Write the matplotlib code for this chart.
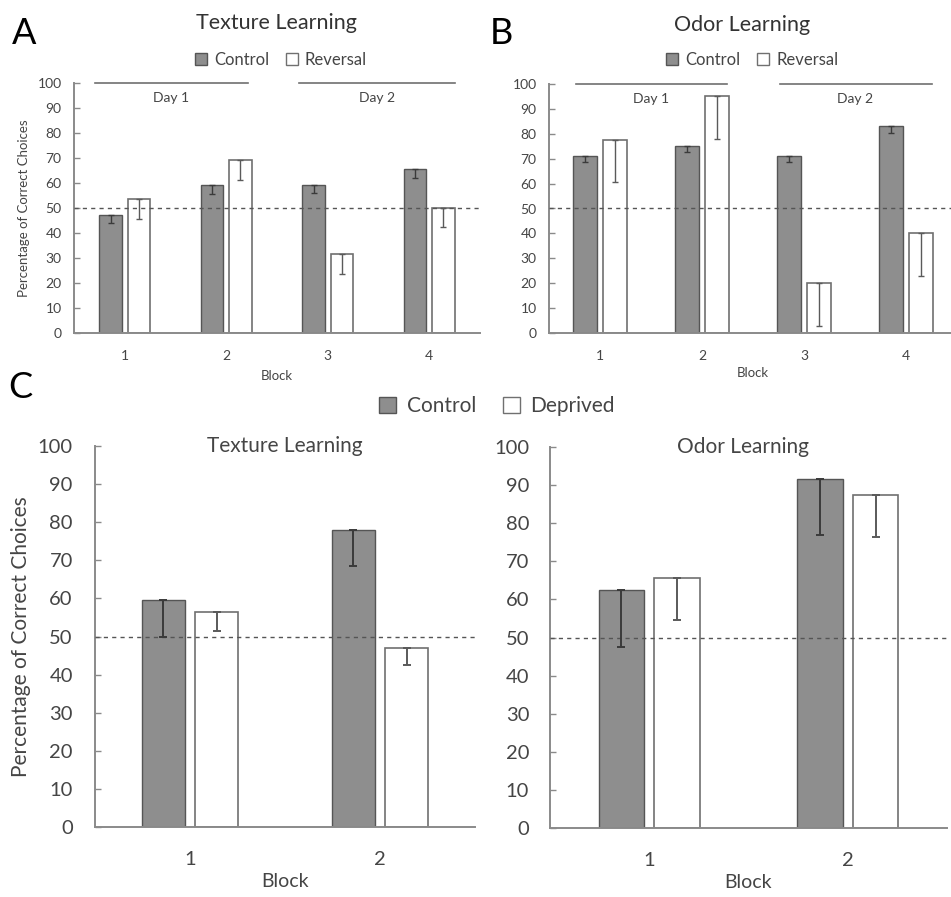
import matplotlib
matplotlib.use("Agg")
import matplotlib.pyplot as plt
from matplotlib.patches import Patch
import numpy as np

plt.rcParams['font.family'] = ['Lato', 'DejaVu Sans']

# ---------------- data ----------------
blocks_ab = ['1', '2', '3', '4']
tex_control = [47, 59, 59, 65.5]
tex_control_err = [3, 3.5, 3, 3.5]
tex_reversal = [53.5, 69, 31.5, 50]
tex_reversal_err = [8, 8, 8, 7.5]

odor_control = [71, 75, 71, 83]
odor_control_err = [2.5, 2.5, 2.5, 2.5]
odor_reversal = [77.5, 95, 20, 40]
odor_reversal_err = [17, 17, 17, 17]

blocks_c = ['1', '2']
dep_tex_control = [59.5, 78]
dep_tex_control_err = [9.5, 9.5]
dep_tex_deprived = [56.5, 47]
dep_tex_deprived_err = [5, 4.5]

dep_odor_control = [62.5, 91.5]
dep_odor_control_err = [15, 14.5]
dep_odor_deprived = [65.5, 87.5]
dep_odor_deprived_err = [11, 11]

yticks = [0, 10, 20, 30, 40, 50, 60, 70, 80, 90, 100]

# ---------------- style ----------------
CTRL = '#8e8e8e'
CTRL_EDGE = '#555555'
REV_EDGE = '#707070'
AXC = '#8a8a8a'
TXT = '#454545'

W, H = 951, 897
fig = plt.figure(figsize=(W / 100, H / 100), dpi=100)


def pos(left, top, right, bottom):
    return [left / W, 1 - bottom / H, (right - left) / W, (bottom - top) / H]


def style_axes(ax, ticksize, xlim, xpad, ypad):
    for s in ['top', 'right']:
        ax.spines[s].set_visible(False)
    for s in ['left', 'bottom']:
        ax.spines[s].set_color(AXC)
        ax.spines[s].set_linewidth(1.4)
    ax.set_ylim(0, 100)
    ax.set_xlim(*xlim)
    ax.set_yticks(yticks)
    ax.tick_params(axis='y', direction='in', length=4, width=1, color=AXC,
                   labelsize=ticksize, labelcolor=TXT, pad=ypad)
    ax.tick_params(axis='x', length=0, labelsize=ticksize, labelcolor=TXT, pad=xpad)
    ax.axhline(50, color='#555555', lw=1.0, ls=(0, (3, 3)), zorder=3, clip_on=False)


def draw_bars(ax, labels, c_vals, c_err, r_vals, r_err, off, width, cap, elw):
    x = np.arange(len(labels))
    ax.bar(x - off, c_vals, width, color=CTRL, edgecolor=CTRL_EDGE, lw=1.0, zorder=2)
    ax.bar(x + off, r_vals, width, color='white', edgecolor=REV_EDGE, lw=1.2, zorder=2)
    z = np.zeros(len(labels))
    ax.errorbar(x - off, c_vals, yerr=[c_err, z], fmt='none', ecolor='#3a3a3a',
                elinewidth=elw, capsize=cap, capthick=elw, zorder=4)
    ax.errorbar(x + off, r_vals, yerr=[r_err, z], fmt='none', ecolor='#5a5a5a',
                elinewidth=elw, capsize=cap, capthick=elw, zorder=4)
    ax.set_xticks(x)
    ax.set_xticklabels(labels)


# ---------------- Panel A ----------------
axA = fig.add_axes(pos(74, 83, 480, 333))
style_axes(axA, 10, (-0.5, 3.5), 12, 9)
draw_bars(axA, blocks_ab, tex_control, tex_control_err, tex_reversal, tex_reversal_err,
          0.14, 0.22, 2, 1.0)
axA.set_ylabel('Percentage of Correct Choices', fontsize=9.5, color=TXT, labelpad=5)
axA.set_xlabel('Block', fontsize=9.5, color=TXT, labelpad=6)
for x0, x1, lab in [(-0.295, 1.217, 'Day 1'), (1.72, 3.25, 'Day 2')]:
    axA.plot([x0, x1], [100, 100], color='#707070', lw=1.2, clip_on=False)
    axA.text((x0 + x1) / 2, 94, lab, ha='center', va='center', fontsize=10, color=TXT)

# ---------------- Panel B ----------------
axB = fig.add_axes(pos(549, 84, 957, 333))
style_axes(axB, 10, (-0.5, 3.5), 12, 9)
draw_bars(axB, blocks_ab, odor_control, odor_control_err, odor_reversal, odor_reversal_err,
          0.145, 0.235, 2, 1.0)
axB.set_xlabel('Block', fontsize=9.5, color=TXT, labelpad=4)
for x0, x1, lab in [(-0.235, 1.245, 'Day 1'), (1.76, 3.25, 'Day 2')]:
    axB.plot([x0, x1], [100, 100], color='#707070', lw=1.2, clip_on=False)
    axB.text((x0 + x1) / 2, 94, lab, ha='center', va='center', fontsize=10, color=TXT)

# titles and legends for A/B
fig.text(276 / W, 1 - 23 / H, 'Texture Learning', ha='center', va='center',
         fontsize=15.5, color='#333333')
fig.text(742 / W, 1 - 25 / H, 'Odor Learning', ha='center', va='center',
         fontsize=15.5, color='#333333')

handles_ab = [Patch(facecolor=CTRL, edgecolor=CTRL_EDGE, label='Control'),
              Patch(facecolor='white', edgecolor=REV_EDGE, label='Reversal')]
for cx in (281, 752):
    fig.legend(handles=handles_ab, loc='center', bbox_to_anchor=(cx / W, 1 - 60 / H),
               ncol=2, frameon=False, fontsize=12, handlelength=0.75, handleheight=0.75,
               handletextpad=0.4, columnspacing=1.0, labelcolor=TXT)

# ---------------- Panel C ----------------
axC1 = fig.add_axes(pos(95, 446, 475, 827))
style_axes(axC1, 14.5, (-0.5, 1.5), 17, 16)
draw_bars(axC1, blocks_c, dep_tex_control, dep_tex_control_err,
          dep_tex_deprived, dep_tex_deprived_err, 0.14, 0.23, 3, 1.4)
axC1.set_ylabel('Percentage of Correct Choices', fontsize=15, color=TXT, labelpad=5)
axC1.set_xlabel('Block', fontsize=14, color=TXT, labelpad=4)
axC1.text(0.5, 100, 'Texture Learning', ha='center', va='center', fontsize=15,
          color=TXT)

axC2 = fig.add_axes(pos(550, 447, 947, 828))
style_axes(axC2, 14.5, (-0.5, 1.5), 17, 15)
draw_bars(axC2, blocks_c, dep_odor_control, dep_odor_control_err,
          dep_odor_deprived, dep_odor_deprived_err, 0.14, 0.23, 3, 1.4)
axC2.set_xlabel('Block', fontsize=14, color=TXT, labelpad=4)
axC2.text(0.47, 100, 'Odor Learning', ha='center', va='center', fontsize=15, color=TXT)

handles_c = [Patch(facecolor=CTRL, edgecolor=CTRL_EDGE, label='Control'),
             Patch(facecolor='white', edgecolor=REV_EDGE, label='Deprived')]
fig.legend(handles=handles_c, loc='center', bbox_to_anchor=(497 / W, 1 - 406 / H),
           ncol=2, frameon=False, fontsize=15, handlelength=0.8, handleheight=0.8,
           handletextpad=0.5, columnspacing=1.3, labelcolor=TXT)

# panel letters
fig.text(12 / W, 1 - 34 / H, 'A', fontsize=26, ha='left', va='center', color='black')
fig.text(490 / W, 1 - 34 / H, 'B', fontsize=26, ha='left', va='center', color='black')
fig.text(8 / W, 1 - 387 / H, 'C', fontsize=26, ha='left', va='center', color='black')

fig.savefig('out.png', dpi=100)
